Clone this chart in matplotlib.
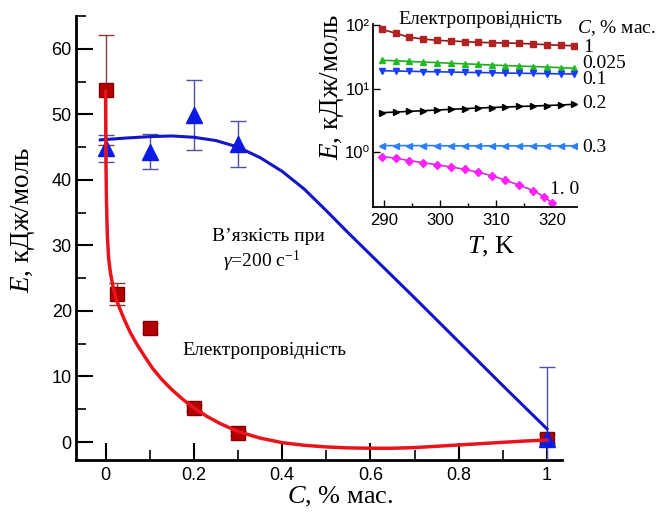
import matplotlib
matplotlib.use("Agg")
import matplotlib.pyplot as plt
from matplotlib.ticker import FixedLocator, MultipleLocator, NullLocator, FixedFormatter

#------------------------------------------------------------------------
#                               Data
#------------------------------------------------------------------------
# main plot: activation energy vs concentration
c_cond = [0.0, 0.025, 0.1, 0.2, 0.3, 1.0]
e_cond = [53.7, 22.6, 17.4, 5.2, 1.4, 0.5]
err_cond = [8.4, 1.7, 0.8, 0.5, 0.3, 0.7]

c_visc = [0.0, 0.1, 0.2, 0.3, 1.0]
e_visc = [44.8, 44.3, 49.9, 45.45, 0.4]
err_visc = [2.1, 2.7, 5.4, 3.55, 11.0]

# fitted curves
fit_cond_x = [0.0, 0.0005, 0.001, 0.002, 0.004, 0.007, 0.011, 0.016, 0.023, 0.032,
              0.043, 0.056, 0.071, 0.088, 0.107, 0.128, 0.150, 0.175, 0.200, 0.230,
              0.260, 0.300, 0.350, 0.400, 0.450, 0.500, 0.550, 0.600, 0.650, 0.700,
              0.750, 0.800, 0.850, 0.900, 0.950, 1.000]
fit_cond_y = [53.5, 47.0, 42.0, 37.0, 31.5, 28.0, 25.8, 24.0, 22.0, 20.4,
              18.6, 16.7, 14.9, 13.1, 11.2, 9.5, 8.0, 6.5, 5.2, 3.9,
              2.8, 1.6, 0.6, -0.1, -0.5, -0.75, -0.9, -0.95, -0.95, -0.85,
              -0.65, -0.45, -0.25, -0.05, 0.15, 0.3]

fit_visc_x = [-0.012, 0.05, 0.1, 0.15, 0.2, 0.25, 0.3, 0.35, 0.4, 0.45,
              0.5, 0.55, 0.6, 0.7, 0.8, 0.9, 1.0]
fit_visc_y = [46.1, 46.4, 46.6, 46.7, 46.5, 46.0, 45.0, 43.4, 41.3, 38.6,
              35.3, 31.9, 28.6, 22.0, 15.3, 8.6, 2.0]

# inset: E vs T for each concentration
T = [289.6, 292.1, 294.5, 297.0, 299.4, 301.9, 304.4, 306.8, 309.3, 311.7,
     314.2, 316.7, 319.1, 321.6, 324.0]
T_mag = [289.6, 292.1, 294.5, 297.0, 299.4, 301.9, 304.4, 306.8, 309.3, 311.7,
         314.2, 316.7, 318.6, 320.1]
e_1 = [85.5, 74.0, 64.2, 60.2, 57.5, 56.1, 54.8, 53.4, 52.6, 52.1, 51.5, 50.2, 49.0, 47.9, 47.2]
e_0025 = [27.9, 27.3, 26.7, 26.1, 25.6, 25.0, 24.5, 24.0, 23.4, 23.0, 22.6, 22.2, 21.8, 21.3, 20.8]
e_01 = [19.07, 18.86, 18.66, 18.52, 18.32, 18.19, 17.99, 17.86, 17.74, 17.54, 17.41, 17.29, 17.16, 17.04, 16.92]
e_02 = [4.16, 4.26, 4.37, 4.47, 4.58, 4.70, 4.81, 4.93, 5.02, 5.11, 5.21, 5.30, 5.40, 5.50, 5.64]
e_03 = [1.26, 1.26, 1.26, 1.26, 1.26, 1.25, 1.25, 1.25, 1.25, 1.25, 1.25, 1.25, 1.25, 1.25, 1.25]
e_10 = [0.849, 0.796, 0.730, 0.678, 0.631, 0.580, 0.534, 0.479, 0.423, 0.358, 0.299, 0.246, 0.198, 0.156]

series_labels = ["1", "0.025", "0.1", "0.2", "0.3", "1. 0"]

#------------------------------------------------------------------------
#                               Style
#------------------------------------------------------------------------
plt.rcParams['font.family'] = ['Liberation Sans', 'DejaVu Sans']
plt.rcParams['mathtext.fontset'] = 'custom'
plt.rcParams['mathtext.rm'] = 'Liberation Serif'
plt.rcParams['mathtext.it'] = 'Liberation Serif:italic'
SERIF = ['Liberation Serif', 'DejaVu Serif']

fig = plt.figure(figsize=(6.58, 5.14), dpi=100)

#------------------------------------------------------------------------
#                               Main axes
#------------------------------------------------------------------------
ax = fig.add_axes([0.1155, 0.105, 0.7386, 0.8638])
ax.set_xlim(-0.067, 1.034)
ax.set_ylim(-2.75, 65.0)

ax.errorbar(c_cond, e_cond, yerr=err_cond, fmt='s', ms=9.5, color='#b30000',
            mec='#800000', ecolor='#8c3b3b', elinewidth=1, capsize=6, capthick=1, zorder=3)
ax.errorbar(c_visc, e_visc, yerr=err_visc, fmt='^', ms=11, color='#0b1be6',
            mec='#0b1be6', ecolor='#5050a8', elinewidth=1, capsize=6, capthick=1, zorder=4)
ax.plot(fit_visc_x, fit_visc_y, color='#1414c8', lw=2.2, zorder=5)
ax.plot(fit_cond_x, fit_cond_y, color='#e8141c', lw=2.5, zorder=6)

for s in ['top', 'right']:
    ax.spines[s].set_visible(False)
for s in ['left', 'bottom']:
    ax.spines[s].set_linewidth(2)

ax.xaxis.set_minor_locator(MultipleLocator(0.1))
ax.yaxis.set_major_locator(MultipleLocator(10))
ax.yaxis.set_minor_locator(MultipleLocator(5))
ax.set_xticks([0, 0.2, 0.4, 0.6, 0.8, 1.0])
ax.set_xticklabels(['0', '0.2', '0.4', '0.6', '0.8', '1'])
ax.tick_params(which='major', direction='in', length=12, width=1.5, labelsize=13)
ax.tick_params(which='minor', direction='in', length=7, width=1.2)
ax.tick_params(axis='y', pad=3)
ax.tick_params(axis='x', pad=5)

ax.set_ylabel(r'$E$, кДж/моль', family=SERIF, fontsize=19.5)
ax.yaxis.set_label_coords(-0.08, 0.54)
ax.set_xlabel(r'$C$, % мас.', family=SERIF, fontsize=19)
ax.xaxis.set_label_coords(0.543, -0.056)

ax.text(0.369, 31.3, 'В’язкість при', family=SERIF, fontsize=14, ha='center', va='center')
ax.text(0.266, 27.5, r'$\gamma$=200 с$^{-1}$', family=SERIF, fontsize=14, ha='left', va='center')
ax.text(0.359, 13.9, 'Електропровідність', family=SERIF, fontsize=14, ha='center', va='center')

#------------------------------------------------------------------------
#                               Inset
#------------------------------------------------------------------------
ins = fig.add_axes([0.5669, 0.5973, 0.31, 0.3566])
ins.set_yscale('log')
ins.set_xlim(288.0, 324.5)
ins.set_ylim(0.136, 105)

ins.plot(T, e_1, '-s', color='#8b1a1a', mfc='#b22222', mec='#b22222', ms=4, lw=1.2)
ins.plot(T, e_0025, '-^', color='#22aa22', mfc='#22bb22', mec='#22bb22', ms=4.5, lw=1.2)
ins.plot(T, e_01, '-v', color='#1a3cf0', mfc='#1a3cff', mec='#1a3cff', ms=4.5, lw=1.2)
ins.plot(T, e_02, '->', color='black', ms=4.5, lw=1.2)
ins.plot(T, e_03, '-<', color='#2a80ff', mfc='#2a80ff', mec='#2a80ff', ms=4.5, lw=1.2)
ins.plot(T_mag, e_10, '-D', color='#cc33cc', mfc='#ff22ff', mec='#ff22ff', ms=4, lw=1.2)

for s in ['top', 'right']:
    ins.spines[s].set_visible(False)
for s in ['left', 'bottom']:
    ins.spines[s].set_linewidth(1.3)

ins.xaxis.set_major_locator(FixedLocator([290, 300, 310, 320]))
ins.xaxis.set_minor_locator(FixedLocator([295, 305, 315]))
ins.yaxis.set_major_locator(FixedLocator([1, 10, 100]))
ins.yaxis.set_major_formatter(FixedFormatter(['10⁰', '10¹', '10²']))
ins.yaxis.set_minor_locator(NullLocator())
ins.tick_params(which='major', direction='in', length=5, width=1, labelsize=12)
ins.tick_params(which='minor', direction='in', length=3, width=1)
ins.tick_params(axis='y', pad=2)
ins.tick_params(axis='x', pad=4)

ins.set_ylabel(r'$E$, кДж/моль', family=SERIF, fontsize=19.5)
ins.yaxis.set_label_coords(-0.132, 0.655)
ins.set_xlabel(r'$T$, K', family=SERIF, fontsize=19)
ins.xaxis.set_label_coords(0.578, -0.153)

fig.text(480 / 658, 1 - 20 / 514, 'Електропровідність', family=SERIF, fontsize=14,
         ha='center', va='center')
fig.text(617 / 658, 1 - 28 / 514, r'$C$, % мас.', family=SERIF, fontsize=14,
         ha='center', va='center')

label_pos = [(583, 47), (582, 63), (582, 80), (582, 103), (582, 147), (550, 190)]
for lab, (px, py) in zip(series_labels, label_pos):
    fig.text(px / 658, 1 - py / 514, lab, family=SERIF, fontsize=14, ha='left', va='center')

fig.savefig('out.png', dpi=100)
